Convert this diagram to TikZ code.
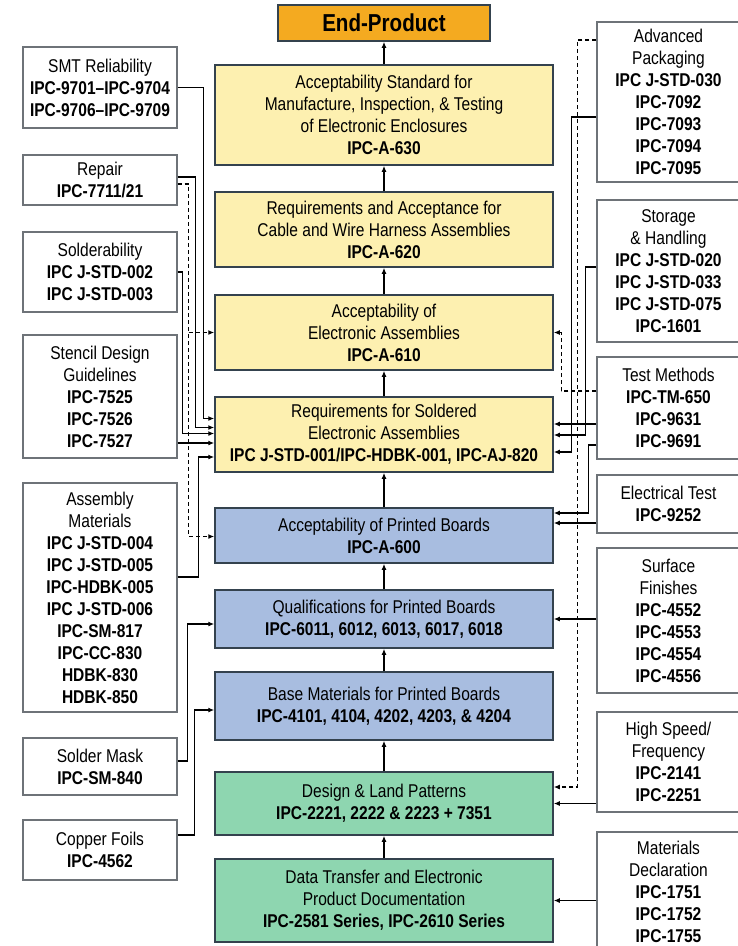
\documentclass[tikz,border=0pt]{standalone}
\usepackage{fontspec}
\setmainfont{Liberation Sans}[FakeStretch=0.84]
\usetikzlibrary{arrows.meta, calc, positioning}

\definecolor{prodorange}{HTML}{F4AA20}
\definecolor{asmyellow}{HTML}{FDF0B0}
\definecolor{pcbblue}{HTML}{A8BDE0}
\definecolor{dsgngreen}{HTML}{8ED6B0}
\definecolor{mainline}{HTML}{34424E}
\definecolor{sideline}{HTML}{6E7378}

\begin{document}
\begin{tikzpicture}[x=1pt, y=-1pt,
    every node/.style={font=\fontsize{18.5}{22}\selectfont},
    mainbox/.style={draw=mainline, line width=1.5pt, align=center, minimum width=338pt, inner sep=1pt},
    asmbox/.style={mainbox, fill=asmyellow},
    pcbbox/.style={mainbox, fill=pcbblue},
    dsgnbox/.style={mainbox, fill=dsgngreen},
    sidebox/.style={draw=sideline, line width=1.3pt, fill=white, align=center, minimum width=154pt, inner sep=1pt},
    rightbox/.style={sidebox, minimum width=143pt},
    feed/.style={line width=1.3pt, -{Latex[length=6pt,width=5pt]}},
    dashfeed/.style={feed, dash pattern=on 4pt off 3pt}]
    \useasboundingbox (0,0) rectangle (737,946);

    % Main column
    \node[mainbox, fill=prodorange, minimum width=212pt, minimum height=36pt, font=\fontsize{24.5}{26}\selectfont\bfseries] (endprod) at (384,23) {End-Product};
    \node[asmbox, minimum height=100pt] (acc630) at (384,115) {Acceptability Standard for\\Manufacture, Inspection, \& Testing\\of Electronic Enclosures\\\textbf{IPC-A-630}};
    \node[asmbox, minimum height=75pt] (req620) at (384,229.5) {Requirements and Acceptance for\\Cable and Wire Harness Assemblies\\\textbf{IPC-A-620}};
    \node[asmbox, minimum height=75pt] (acc610) at (384,332.5) {Acceptability of\\Electronic Assemblies\\\textbf{IPC-A-610}};
    \node[asmbox, minimum height=75pt] (req001) at (384,434.5) {Requirements for Soldered\\Electronic Assemblies\\\textbf{IPC J-STD-001/IPC-HDBK-001, IPC-AJ-820}};
    \node[pcbbox, minimum height=55pt] (acc600) at (384,535.5) {Acceptability of Printed Boards\\\textbf{IPC-A-600}};
    \node[pcbbox, minimum height=58pt] (qual) at (384,619) {Qualifications for Printed Boards\\\textbf{IPC-6011, 6012, 6013, 6017, 6018}};
    \node[pcbbox, minimum height=68pt] (base) at (384,706) {Base Materials for Printed Boards\\\textbf{IPC-4101, 4104, 4202, 4203, \& 4204}};
    \node[dsgnbox, minimum height=63pt] (design) at (384,803.5) {Design \& Land Patterns\\\textbf{IPC-2221, 2222 \& 2223 + 7351}};
    \node[dsgnbox, minimum height=83pt] (data) at (384,900.5) {Data Transfer and Electronic\\Product Documentation\\\textbf{IPC-2581 Series, IPC-2610 Series}};

    \foreach \from/\to in {acc630/endprod, req620/acc630, acc610/req620, req001/acc610,
        acc600/req001, qual/acc600, base/qual, design/base, data/design}
        \draw[feed] (\from) -- (\to);

    % Left column
    \node[sidebox, minimum height=81pt] (smt) at (100,87.5) {SMT Reliability\\\textbf{IPC-9701--IPC-9704}\\\textbf{IPC-9706--IPC-9709}};
    \node[sidebox, minimum height=50pt] (repair) at (100,180) {Repair\\\textbf{IPC-7711/21}};
    \node[sidebox, minimum height=80pt] (solder) at (100,272) {Solderability\\\textbf{IPC J-STD-002}\\\textbf{IPC J-STD-003}};
    \node[sidebox, minimum height=123pt] (stencil) at (100,396.5) {Stencil Design\\Guidelines\\\textbf{IPC-7525}\\\textbf{IPC-7526}\\\textbf{IPC-7527}};
    \node[sidebox, minimum height=229pt] (assembly) at (100,597.5) {Assembly\\Materials\\\textbf{IPC J-STD-004}\\\textbf{IPC J-STD-005}\\\textbf{IPC-HDBK-005}\\\textbf{IPC J-STD-006}\\\textbf{IPC-SM-817}\\\textbf{IPC-CC-830}\\\textbf{HDBK-830}\\\textbf{HDBK-850}};
    \node[sidebox, minimum height=57pt] (mask) at (100,766.5) {Solder Mask\\\textbf{IPC-SM-840}};
    \node[sidebox, minimum height=60pt] (copper) at (100,850) {Copper Foils\\\textbf{IPC-4562}};

    % Right column
    \node[rightbox, minimum height=160pt] (advpack) at (668.5,102) {Advanced\\Packaging\\\textbf{IPC J-STD-030}\\\textbf{IPC-7092}\\\textbf{IPC-7093}\\\textbf{IPC-7094}\\\textbf{IPC-7095}};
    \node[rightbox, minimum height=142pt] (storage) at (668.5,271) {Storage\\\& Handling\\\textbf{IPC J-STD-020}\\\textbf{IPC J-STD-033}\\\textbf{IPC J-STD-075}\\\textbf{IPC-1601}};
    \node[rightbox, minimum height=102pt] (testm) at (668.5,408) {Test Methods\\\textbf{IPC-TM-650}\\\textbf{IPC-9631}\\\textbf{IPC-9691}};
    \node[rightbox, minimum height=58pt] (elect) at (668.5,504) {Electrical Test\\\textbf{IPC-9252}};
    \node[rightbox, minimum height=145pt] (surface) at (668.5,620.5) {Surface\\Finishes\\\textbf{IPC-4552}\\\textbf{IPC-4553}\\\textbf{IPC-4554}\\\textbf{IPC-4556}};
    \node[rightbox, minimum height=100pt] (highspeed) at (668.5,762) {High Speed/\\Frequency\\\textbf{IPC-2141}\\\textbf{IPC-2251}};
    \node[rightbox, minimum height=120pt] (matdecl) at (668.5,892) {Materials\\Declaration\\\textbf{IPC-1751}\\\textbf{IPC-1752}\\\textbf{IPC-1755}};

    % Left feeds
    \draw[feed] (smt.east) -- ++(26,0) |- ([yshift=16pt]req001.west);
    \draw[feed] ([yshift=3pt]repair.east) -- ++(18,0) |- ([yshift=7pt]req001.west);
    \draw[dashfeed] ([yshift=-4pt]repair.east) -- ++(11,0) coordinate (rpdash) |- ([yshift=-1pt]acc600.west);
    \draw[dashfeed] (rpdash |- acc610.west) -- (acc610.west);
    \draw[feed] (solder.east) -- ++(5,0) |- ([yshift=1pt]req001.west);
    \draw[feed] ([yshift=-8.5pt]req001.west -| stencil.east) -- ([yshift=-8.5pt]req001.west);
    \draw[feed] ([yshift=20.5pt]assembly.east) -- ++(21,0) |- ([yshift=-22.5pt]req001.west);
    \draw[feed] ([yshift=5.5pt]mask.east) -- ++(10,0) |- ([yshift=-5pt]qual.west);
    \draw[feed] ([yshift=15pt]copper.east) -- ++(17,0) |- ([yshift=-4pt]base.west);

    % Right feeds
    \draw[dashfeed] ([yshift=62pt]advpack.west) -- ++(-19,0) |- ([yshift=16.5pt]design.east);
    \draw[feed] ([yshift=-15pt]advpack.west) -- ++(-25,0) |- ([yshift=-17.5pt]req001.east);
    \draw[feed] ([yshift=4pt]storage.west) -- ++(-11,0) |- ([yshift=-0.5pt]req001.east);
    \draw[feed] ([yshift=10.5pt]req001.east -| testm.west) -- ([yshift=10.5pt]req001.east);
    \draw[feed] ([yshift=-37pt]testm.west) -- ++(-8,0) |- ([yshift=22.5pt]acc600.east);
    \draw[dashfeed] ([yshift=17pt]testm.west) -- ++(-35,0) |- (acc610.east);
    \draw[feed] ([yshift=12.5pt]acc600.east -| elect.west) -- ([yshift=12.5pt]acc600.east);
    \draw[feed] (qual.east -| surface.west) -- (qual.east);
    \draw[feed] (design.east -| highspeed.west) -- (design.east);
    \draw[feed] (data.east -| matdecl.west) -- (data.east);
\end{tikzpicture}
\end{document}
